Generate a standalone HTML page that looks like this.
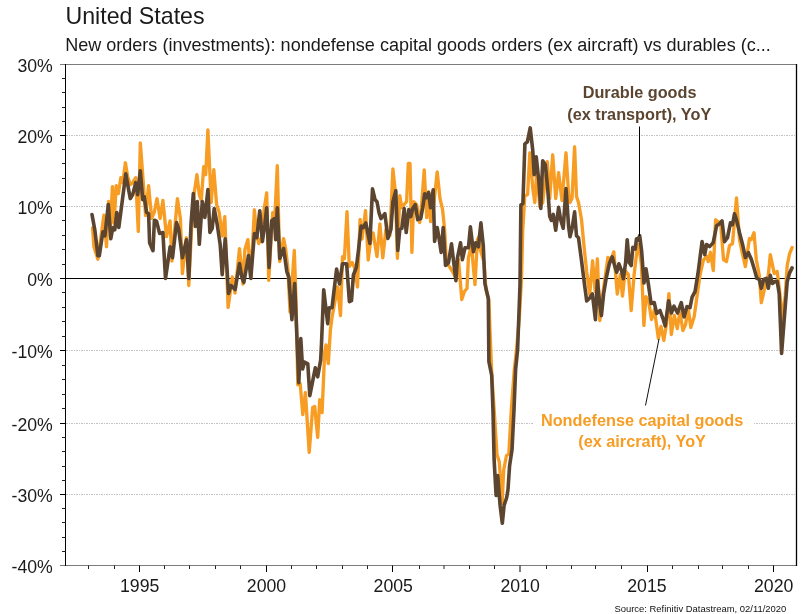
<!DOCTYPE html>
<html><head><meta charset="utf-8"><title>United States - New orders</title>
<style>
html,body{margin:0;padding:0;background:#fff;}
body{width:808px;height:614px;overflow:hidden;font-family:"Liberation Sans",sans-serif;}
.t{font-family:"Liberation Sans",sans-serif;}
</style></head><body>
<svg width="808" height="614" viewBox="0 0 808 614" style="display:block;opacity:0.9999;will-change:transform">
<rect x="0" y="0" width="808" height="614" fill="#ffffff"/>
<text x="65.4" y="23.5" font-size="23.2" fill="#1a1a1a" class="t">United States</text>
<text x="65.2" y="51" font-size="18.05" fill="#1a1a1a" class="t">New orders (investments): nondefense capital goods orders (ex aircraft) vs durables (c...</text>
<line x1="66.0" x2="796.0" y1="135.5" y2="135.5" stroke="#c4c4c4" stroke-width="1" stroke-dasharray="2 1 1 1"/>
<line x1="66.0" x2="796.0" y1="206.5" y2="206.5" stroke="#c4c4c4" stroke-width="1" stroke-dasharray="2 1 1 1"/>
<line x1="66.0" x2="796.0" y1="350.5" y2="350.5" stroke="#c4c4c4" stroke-width="1" stroke-dasharray="2 1 1 1"/>
<line x1="66.0" x2="796.0" y1="423.5" y2="423.5" stroke="#c4c4c4" stroke-width="1" stroke-dasharray="2 1 1 1"/>
<line x1="66.0" x2="796.0" y1="494.5" y2="494.5" stroke="#c4c4c4" stroke-width="1" stroke-dasharray="2 1 1 1"/>
<line x1="65.5" x2="796.5" y1="278.5" y2="278.5" stroke="#000" stroke-width="1.2"/>
<path d="M92.6,227.8 L93.9,246.7 L97.9,259.2 L103.9,215.2 L106.5,246.7 L108.5,201.5 L110.4,228.4 L112.4,186.6 L114.1,223.0 L116.2,185.6 L118.4,193.6 L120.8,177.7 L122.8,182.7 L125.4,162.8 L127.7,176.7 L130.3,184.6 L132.7,182.7 L135.7,177.7 L138.3,231.4 L140.3,142.9 L142.7,174.7 L145.6,215.5 L148.6,185.6 L151.6,218.4 L154.2,212.5 L157.0,198.6 L160.1,218.4 L162.9,200.5 L166.5,236.5 L170.1,221.0 L171.9,261.0 L177.4,198.6 L180.4,218.4 L182.4,273.6 L186.4,237.8 L188.8,285.5 L192.4,212.5 L194.3,192.6 L196.9,174.7 L199.3,194.6 L201.3,200.5 L203.7,166.7 L205.7,174.7 L207.9,130.0 L211.2,202.5 L213.8,169.7 L216.6,204.5 L219.2,212.5 L222.2,236.0 L224.8,216.7 L228.1,307.4 L232.3,277.0 L235.0,293.0 L239.5,248.6 L243.0,284.0 L244.9,249.5 L247.9,239.6 L250.8,277.4 L254.4,209.8 L256.8,235.6 L258.8,243.6 L261.8,236.6 L264.2,208.8 L266.7,192.9 L268.7,280.3 L272.7,212.7 L274.7,219.7 L277.3,165.7 L279.7,261.5 L283.6,238.6 L285.6,248.5 L288.0,269.4 L290.0,312.0 L294.3,250.5 L296.0,300.0 L297.8,384.7 L300.2,383.7 L302.8,414.6 L305.4,392.7 L309.2,452.3 L312.7,407.6 L314.7,406.6 L317.7,437.4 L319.7,399.6 L322.1,412.6 L324.7,351.9 L326.0,345.0 L328.3,363.6 L330.4,330.0 L332.0,317.5 L337.6,287.0 L340.5,315.5 L342.5,256.7 L344.4,258.6 L347.0,211.7 L349.3,266.4 L352.2,262.5 L354.8,268.4 L357.5,287.0 L360.1,219.5 L362.0,239.1 L365.5,210.7 L368.2,260.0 L371.2,236.2 L373.1,233.0 L377.0,256.6 L379.9,224.0 L382.8,257.8 L385.9,229.5 L389.9,235.5 L392.9,168.9 L395.4,192.7 L397.4,258.3 L399.8,195.7 L401.8,207.7 L404.8,203.7 L406.6,201.7 L408.3,163.5 L410.0,163.5 L411.9,252.4 L413.7,201.7 L416.7,204.7 L419.7,222.6 L421.3,209.6 L424.2,169.9 L426.7,217.6 L428.6,191.7 L430.6,221.6 L433.6,205.7 L437.2,171.9 L440.0,198.7 L442.6,209.6 L444.6,229.5 L446.5,263.5 L449.5,266.7 L452.5,271.6 L455.5,277.6 L458.5,259.7 L461.8,299.5 L464.4,291.5 L467.0,288.5 L468.4,257.7 L471.4,245.8 L475.0,284.6 L477.4,239.8 L478.9,236.8 L480.3,249.8 L484.0,262.0 L486.0,290.0 L488.9,300.0 L490.0,330.8 L491.8,375.0 L494.3,412.0 L497.0,454.7 L499.3,462.0 L502.1,503.4 L503.7,470.0 L506.5,455.5 L508.8,454.2 L511.3,410.0 L514.3,370.0 L516.6,349.0 L519.4,317.0 L521.5,278.5 L522.7,230.8 L524.8,196.0 L527.6,194.5 L529.8,152.8 L532.8,188.6 L534.8,202.5 L536.8,170.7 L539.8,206.5 L542.7,202.5 L547.3,161.7 L549.7,198.5 L552.7,154.8 L555.7,198.5 L558.6,172.7 L562.0,200.5 L566.0,152.8 L568.6,194.5 L570.0,202.5 L572.0,198.5 L574.6,146.8 L576.5,196.5 L578.5,202.5 L581.5,219.5 L583.7,243.0 L586.7,272.0 L589.7,294.5 L592.6,260.8 L595.2,291.5 L597.4,258.8 L599.8,320.5 L602.7,294.7 L607.9,257.4 L610.7,260.9 L613.8,251.9 L617.3,294.0 L620.3,274.6 L622.5,296.0 L625.2,270.6 L628.4,274.6 L631.2,310.5 L634.1,274.6 L636.8,252.0 L638.6,244.5 L641.4,264.8 L643.9,325.5 L645.9,296.7 L648.5,300.7 L651.5,319.6 L654.4,309.6 L658.4,338.4 L661.0,326.5 L663.8,340.4 L666.4,324.5 L668.9,293.7 L671.3,334.5 L674.3,315.5 L677.3,328.5 L679.9,311.8 L682.9,330.5 L685.6,324.5 L688.2,308.3 L690.8,327.5 L694.2,316.6 L697.2,294.7 L700.0,275.0 L703.4,260.2 L706.8,256.2 L708.2,261.5 L710.4,252.3 L713.3,270.6 L715.6,219.8 L718.0,221.7 L720.6,222.7 L723.5,259.5 L726.5,261.5 L729.5,245.6 L732.5,243.6 L736.5,197.9 L739.5,239.6 L742.4,253.6 L745.4,266.5 L749.4,238.6 L751.4,239.6 L754.0,232.7 L756.3,259.5 L759.3,275.4 L761.3,302.7 L765.3,285.4 L768.3,275.4 L770.3,254.6 L774.2,273.4 L777.2,271.5 L779.6,291.3 L782.6,320.0 L785.2,295.7 L787.2,265.5 L789.6,253.6 L792.1,247.6" fill="none" stroke="#f79d24" stroke-width="3.35" stroke-linejoin="round" stroke-linecap="round"/>
<path d="M92.0,214.5 L94.9,230.4 L97.9,255.7 L99.3,255.7 L102.9,231.8 L104.9,235.8 L108.3,204.5 L110.8,238.8 L112.8,227.8 L114.8,229.8 L116.8,212.5 L118.8,227.4 L121.8,204.5 L125.8,173.7 L127.7,184.6 L130.3,198.6 L132.7,194.6 L135.7,182.7 L137.7,194.6 L140.3,170.7 L142.7,199.6 L144.2,196.6 L146.6,212.5 L148.6,213.5 L149.6,242.7 L153.0,250.7 L154.4,220.2 L156.6,221.4 L159.6,233.4 L162.9,232.6 L165.5,278.5 L170.1,246.7 L172.5,257.7 L176.5,222.6 L178.6,228.6 L182.4,257.7 L186.4,239.8 L188.8,278.5 L191.0,224.4 L193.3,193.6 L195.3,226.4 L197.3,201.5 L199.3,244.3 L202.3,201.5 L204.9,217.4 L207.9,189.6 L209.9,232.4 L212.2,228.4 L214.2,208.5 L217.2,224.4 L220.2,244.7 L222.2,274.6 L225.2,238.8 L228.5,293.4 L231.1,285.5 L235.1,289.5 L239.5,263.5 L242.0,278.0 L243.9,282.3 L248.5,255.5 L250.8,278.4 L254.4,233.6 L256.8,237.6 L259.8,210.8 L262.4,241.6 L264.8,224.7 L266.7,207.8 L269.1,267.4 L271.7,220.7 L274.3,218.7 L275.7,239.6 L277.3,207.8 L279.7,258.5 L283.6,248.5 L286.8,271.6 L288.8,277.0 L291.9,319.6 L294.7,283.6 L298.8,382.7 L300.8,338.5 L302.6,369.0 L304.5,362.0 L307.8,363.9 L309.8,395.7 L315.3,367.8 L317.7,376.8 L320.7,359.9 L321.5,343.5 L323.7,289.8 L327.7,323.6 L329.2,307.7 L332.0,307.7 L336.6,269.0 L339.5,284.0 L342.5,263.7 L346.6,263.7 L349.4,301.7 L351.5,300.7 L353.4,275.0 L356.3,267.6 L358.5,250.0 L361.1,226.0 L363.2,227.7 L365.8,223.0 L369.9,243.4 L372.5,188.9 L375.1,199.8 L377.0,201.8 L379.0,212.7 L381.0,218.6 L384.9,213.6 L387.9,238.5 L390.9,229.5 L392.9,201.7 L395.8,190.8 L397.8,250.4 L399.8,229.5 L401.8,228.5 L404.2,208.6 L406.2,232.5 L408.8,209.6 L410.8,216.6 L412.7,208.6 L415.3,204.7 L417.7,219.6 L420.7,218.6 L422.7,207.7 L424.7,193.7 L426.7,197.7 L428.6,192.7 L430.6,207.7 L433.2,189.8 L434.6,241.5 L437.2,227.5 L438.6,235.5 L441.2,252.4 L443.2,227.5 L445.5,265.5 L448.5,262.7 L451.5,243.8 L455.9,280.6 L457.5,257.7 L460.5,242.8 L462.4,259.7 L465.0,247.8 L468.4,247.8 L470.4,226.9 L473.4,251.7 L475.8,242.8 L478.4,246.8 L480.9,222.9 L483.3,245.8 L484.9,283.6 L488.3,298.5 L488.9,361.6 L491.7,375.5 L493.0,411.0 L494.1,459.7 L496.1,495.5 L497.7,475.6 L500.1,505.4 L502.3,523.3 L504.1,505.4 L506.7,497.5 L508.0,489.5 L509.6,465.7 L512.0,449.8 L514.0,410.0 L515.6,369.5 L517.6,349.6 L520.0,285.0 L520.9,205.0 L522.9,203.5 L524.9,143.8 L527.4,141.8 L530.2,127.9 L532.8,150.8 L534.2,174.6 L536.2,156.8 L538.8,180.6 L540.8,208.4 L542.7,160.7 L545.3,164.7 L547.7,188.6 L549.7,216.4 L551.3,220.4 L553.3,214.4 L555.7,230.3 L558.6,207.4 L560.6,219.4 L563.2,228.3 L566.0,188.6 L568.6,226.3 L570.0,236.7 L572.0,228.8 L574.6,211.9 L576.5,235.8 L578.5,237.7 L581.5,260.6 L584.7,286.0 L586.7,301.0 L589.7,298.0 L592.4,294.0 L595.4,319.6 L597.4,280.6 L599.8,304.6 L601.4,315.6 L603.6,294.0 L606.2,278.2 L609.3,263.8 L612.2,256.8 L614.5,265.2 L616.7,272.2 L618.9,263.8 L621.5,270.7 L623.3,278.7 L625.6,262.8 L627.2,239.7 L629.2,262.6 L631.2,265.6 L632.8,247.3 L635.2,249.0 L636.5,238.7 L638.0,240.0 L639.7,235.6 L641.6,250.7 L644.0,283.0 L646.0,268.8 L648.3,283.6 L651.1,303.5 L654.2,302.5 L656.7,313.5 L660.0,310.5 L663.1,319.0 L665.2,326.0 L668.6,300.7 L671.4,313.0 L674.0,306.2 L677.5,313.0 L681.3,302.7 L684.0,317.0 L687.0,306.6 L690.0,307.6 L692.1,297.2 L695.0,291.7 L698.0,273.4 L700.1,257.0 L702.1,241.6 L704.7,254.6 L706.6,244.6 L709.6,246.6 L713.2,242.6 L716.6,225.7 L719.6,223.7 L722.0,220.8 L724.5,241.6 L727.5,237.7 L730.5,222.7 L732.5,224.7 L734.5,213.8 L736.5,219.8 L739.5,232.7 L742.4,243.6 L745.4,257.5 L748.4,252.6 L751.4,259.5 L754.4,269.5 L756.9,278.4 L759.3,279.4 L761.3,288.3 L763.7,279.4 L766.3,278.4 L768.3,288.3 L770.3,275.4 L772.3,283.4 L775.2,281.4 L777.2,281.4 L779.2,293.7 L781.6,353.4 L784.2,319.6 L787.2,281.8 L789.6,272.9 L792.1,267.9" fill="none" stroke="#5b4530" stroke-width="3.6" stroke-linejoin="round" stroke-linecap="round"/>
<line x1="60.0" x2="796.5" y1="64.5" y2="64.5" stroke="#7c7c7c" stroke-width="1"/>
<line x1="60.0" x2="796.5" y1="565.5" y2="565.5" stroke="#7c7c7c" stroke-width="1"/>
<line x1="65.5" x2="65.5" y1="64.0" y2="566.0" stroke="#000" stroke-width="1"/>
<line x1="796.5" x2="796.5" y1="64.0" y2="566.0" stroke="#000" stroke-width="1.3"/>
<text x="52.8" y="71.6" font-size="17.7" fill="#1a1a1a" text-anchor="end" class="t">30%</text>
<line x1="62.0" x2="65.5" y1="78.5" y2="78.5" stroke="#222" stroke-width="1"/>
<line x1="62.0" x2="65.5" y1="92.5" y2="92.5" stroke="#222" stroke-width="1"/>
<line x1="62.0" x2="65.5" y1="107.5" y2="107.5" stroke="#222" stroke-width="1"/>
<line x1="62.0" x2="65.5" y1="121.5" y2="121.5" stroke="#222" stroke-width="1"/>
<line x1="60.0" x2="65.5" y1="135.5" y2="135.5" stroke="#000" stroke-width="1"/>
<text x="52.8" y="142.6" font-size="17.7" fill="#1a1a1a" text-anchor="end" class="t">20%</text>
<line x1="62.0" x2="65.5" y1="149.5" y2="149.5" stroke="#222" stroke-width="1"/>
<line x1="62.0" x2="65.5" y1="163.5" y2="163.5" stroke="#222" stroke-width="1"/>
<line x1="62.0" x2="65.5" y1="178.5" y2="178.5" stroke="#222" stroke-width="1"/>
<line x1="62.0" x2="65.5" y1="192.5" y2="192.5" stroke="#222" stroke-width="1"/>
<line x1="60.0" x2="65.5" y1="206.5" y2="206.5" stroke="#000" stroke-width="1"/>
<text x="52.8" y="213.6" font-size="17.7" fill="#1a1a1a" text-anchor="end" class="t">10%</text>
<line x1="62.0" x2="65.5" y1="220.5" y2="220.5" stroke="#222" stroke-width="1"/>
<line x1="62.0" x2="65.5" y1="235.5" y2="235.5" stroke="#222" stroke-width="1"/>
<line x1="62.0" x2="65.5" y1="249.5" y2="249.5" stroke="#222" stroke-width="1"/>
<line x1="62.0" x2="65.5" y1="264.5" y2="264.5" stroke="#222" stroke-width="1"/>
<line x1="60.0" x2="65.5" y1="278.5" y2="278.5" stroke="#000" stroke-width="1"/>
<text x="52.8" y="285.6" font-size="17.7" fill="#1a1a1a" text-anchor="end" class="t">0%</text>
<line x1="62.0" x2="65.5" y1="292.5" y2="292.5" stroke="#222" stroke-width="1"/>
<line x1="62.0" x2="65.5" y1="307.5" y2="307.5" stroke="#222" stroke-width="1"/>
<line x1="62.0" x2="65.5" y1="321.5" y2="321.5" stroke="#222" stroke-width="1"/>
<line x1="62.0" x2="65.5" y1="336.5" y2="336.5" stroke="#222" stroke-width="1"/>
<line x1="60.0" x2="65.5" y1="350.5" y2="350.5" stroke="#000" stroke-width="1"/>
<text x="52.8" y="357.6" font-size="17.7" fill="#1a1a1a" text-anchor="end" class="t">-10%</text>
<line x1="62.0" x2="65.5" y1="365.5" y2="365.5" stroke="#222" stroke-width="1"/>
<line x1="62.0" x2="65.5" y1="379.5" y2="379.5" stroke="#222" stroke-width="1"/>
<line x1="62.0" x2="65.5" y1="394.5" y2="394.5" stroke="#222" stroke-width="1"/>
<line x1="62.0" x2="65.5" y1="408.5" y2="408.5" stroke="#222" stroke-width="1"/>
<line x1="60.0" x2="65.5" y1="423.5" y2="423.5" stroke="#000" stroke-width="1"/>
<text x="52.8" y="430.6" font-size="17.7" fill="#1a1a1a" text-anchor="end" class="t">-20%</text>
<line x1="62.0" x2="65.5" y1="437.5" y2="437.5" stroke="#222" stroke-width="1"/>
<line x1="62.0" x2="65.5" y1="451.5" y2="451.5" stroke="#222" stroke-width="1"/>
<line x1="62.0" x2="65.5" y1="466.5" y2="466.5" stroke="#222" stroke-width="1"/>
<line x1="62.0" x2="65.5" y1="480.5" y2="480.5" stroke="#222" stroke-width="1"/>
<line x1="60.0" x2="65.5" y1="494.5" y2="494.5" stroke="#000" stroke-width="1"/>
<text x="52.8" y="501.6" font-size="17.7" fill="#1a1a1a" text-anchor="end" class="t">-30%</text>
<line x1="62.0" x2="65.5" y1="508.5" y2="508.5" stroke="#222" stroke-width="1"/>
<line x1="62.0" x2="65.5" y1="522.5" y2="522.5" stroke="#222" stroke-width="1"/>
<line x1="62.0" x2="65.5" y1="537.5" y2="537.5" stroke="#222" stroke-width="1"/>
<line x1="62.0" x2="65.5" y1="551.5" y2="551.5" stroke="#222" stroke-width="1"/>
<text x="52.8" y="573.0" font-size="17.7" fill="#1a1a1a" text-anchor="end" class="t">-40%</text>
<line x1="88.5" x2="88.5" y1="565.5" y2="569.0" stroke="#222" stroke-width="1"/>
<line x1="114.5" x2="114.5" y1="565.5" y2="569.0" stroke="#222" stroke-width="1"/>
<line x1="139.5" x2="139.5" y1="565.5" y2="572.0" stroke="#000" stroke-width="1"/>
<text x="139.7" y="592.2" font-size="17.7" fill="#1a1a1a" text-anchor="middle" class="t">1995</text>
<line x1="164.5" x2="164.5" y1="565.5" y2="569.0" stroke="#222" stroke-width="1"/>
<line x1="189.5" x2="189.5" y1="565.5" y2="569.0" stroke="#222" stroke-width="1"/>
<line x1="215.5" x2="215.5" y1="565.5" y2="569.0" stroke="#222" stroke-width="1"/>
<line x1="240.5" x2="240.5" y1="565.5" y2="569.0" stroke="#222" stroke-width="1"/>
<line x1="266.5" x2="266.5" y1="565.5" y2="572.0" stroke="#000" stroke-width="1"/>
<text x="266.5" y="592.2" font-size="17.7" fill="#1a1a1a" text-anchor="middle" class="t">2000</text>
<line x1="291.5" x2="291.5" y1="565.5" y2="569.0" stroke="#222" stroke-width="1"/>
<line x1="316.5" x2="316.5" y1="565.5" y2="569.0" stroke="#222" stroke-width="1"/>
<line x1="342.5" x2="342.5" y1="565.5" y2="569.0" stroke="#222" stroke-width="1"/>
<line x1="367.5" x2="367.5" y1="565.5" y2="569.0" stroke="#222" stroke-width="1"/>
<line x1="392.5" x2="392.5" y1="565.5" y2="572.0" stroke="#000" stroke-width="1"/>
<text x="393.3" y="592.2" font-size="17.7" fill="#1a1a1a" text-anchor="middle" class="t">2005</text>
<line x1="419.5" x2="419.5" y1="565.5" y2="569.0" stroke="#222" stroke-width="1"/>
<line x1="444.0" x2="444.0" y1="565.5" y2="569.0" stroke="#222" stroke-width="1"/>
<line x1="469.5" x2="469.5" y1="565.5" y2="569.0" stroke="#222" stroke-width="1"/>
<line x1="494.5" x2="494.5" y1="565.5" y2="569.0" stroke="#222" stroke-width="1"/>
<line x1="520.0" x2="520.0" y1="565.5" y2="572.0" stroke="#000" stroke-width="1"/>
<text x="520.1" y="592.2" font-size="17.7" fill="#1a1a1a" text-anchor="middle" class="t">2010</text>
<line x1="546.5" x2="546.5" y1="565.5" y2="569.0" stroke="#222" stroke-width="1"/>
<line x1="571.5" x2="571.5" y1="565.5" y2="569.0" stroke="#222" stroke-width="1"/>
<line x1="595.5" x2="595.5" y1="565.5" y2="569.0" stroke="#222" stroke-width="1"/>
<line x1="621.5" x2="621.5" y1="565.5" y2="569.0" stroke="#222" stroke-width="1"/>
<line x1="647.5" x2="647.5" y1="565.5" y2="572.0" stroke="#000" stroke-width="1"/>
<text x="646.9" y="592.2" font-size="17.7" fill="#1a1a1a" text-anchor="middle" class="t">2015</text>
<line x1="672.5" x2="672.5" y1="565.5" y2="569.0" stroke="#222" stroke-width="1"/>
<line x1="698.5" x2="698.5" y1="565.5" y2="569.0" stroke="#222" stroke-width="1"/>
<line x1="722.5" x2="722.5" y1="565.5" y2="569.0" stroke="#222" stroke-width="1"/>
<line x1="748.5" x2="748.5" y1="565.5" y2="569.0" stroke="#222" stroke-width="1"/>
<line x1="773.5" x2="773.5" y1="565.5" y2="572.0" stroke="#000" stroke-width="1"/>
<text x="773.7" y="592.2" font-size="17.7" fill="#1a1a1a" text-anchor="middle" class="t">2020</text>
<rect x="533" y="408" width="220" height="46" fill="#fff"/>
<line x1="639.5" x2="639.5" y1="126.5" y2="236" stroke="#000" stroke-width="1"/>
<line x1="659" x2="645.5" y1="339" y2="405.5" stroke="#111" stroke-width="1"/>
<text x="639.6" y="97.9" font-size="16.25" font-weight="bold" fill="#5b4530" text-anchor="middle" class="t">Durable goods</text>
<text x="639.3" y="119.5" font-size="16.25" font-weight="bold" fill="#5b4530" text-anchor="middle" class="t">(ex transport), YoY</text>
<text x="642.1" y="425.6" font-size="16.25" font-weight="bold" fill="#f79d24" text-anchor="middle" class="t">Nondefense capital goods</text>
<text x="642.1" y="447.3" font-size="16.25" font-weight="bold" fill="#f79d24" text-anchor="middle" class="t">(ex aircraft), YoY</text>
<text x="786.3" y="611.6" font-size="9.45" fill="#111" text-anchor="end" class="t">Source: Refinitiv Datastream, 02/11/2020</text>
</svg>
</body></html>
